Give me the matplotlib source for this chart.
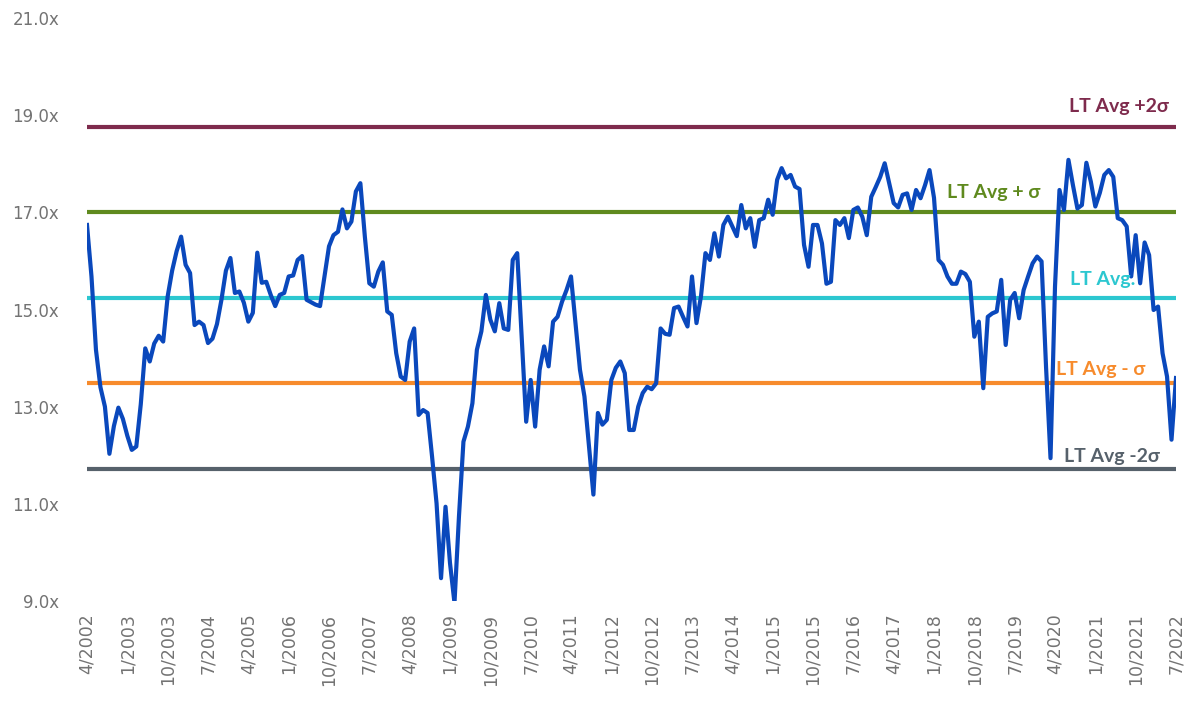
import matplotlib
matplotlib.use("Agg")
import matplotlib.pyplot as plt
import pandas as pd

# --- Forward P/E, monthly, 4/2002 .. 7/2022 ---
pe = [
    16.74, 15.68, 14.17, 13.40, 13.00, 12.03, 12.60, 12.98, 12.75, 12.40, 12.11, 12.18,
    13.05, 14.20, 13.93, 14.30, 14.46, 14.34, 15.27, 15.80, 16.20, 16.50, 15.92, 15.75,
    14.68, 14.75, 14.68, 14.31, 14.40, 14.70, 15.20, 15.80, 16.06, 15.34, 15.37, 15.14,
    14.75, 14.93, 16.17, 15.55, 15.57, 15.30, 15.07, 15.30, 15.34, 15.68, 15.70, 16.02,
    16.10, 15.20, 15.15, 15.10, 15.07, 15.68, 16.30, 16.53, 16.60, 17.06, 16.67, 16.81,
    17.43, 17.60, 16.50, 15.54, 15.47, 15.78, 15.97, 14.96, 14.89, 14.10, 13.62, 13.55,
    14.34, 14.61, 12.83, 12.93, 12.87, 11.97, 11.01, 9.47, 10.94, 9.78, 8.96, 10.74,
    12.28, 12.59, 13.07, 14.17, 14.55, 15.30, 14.79, 14.55, 15.13, 14.61, 14.58, 16.02,
    16.16, 14.44, 12.69, 13.55, 12.59, 13.76, 14.24, 13.83, 14.75, 14.85, 15.16, 15.40,
    15.68, 14.72, 13.76, 13.21, 12.20, 11.19, 12.87, 12.63, 12.73, 13.55, 13.80, 13.93,
    13.69, 12.52, 12.52, 13.00, 13.28, 13.41, 13.36, 13.48, 14.61, 14.50, 14.48, 15.03,
    15.06, 14.85, 14.65, 15.68, 14.72, 15.27, 16.16, 16.02, 16.57, 16.09, 16.74, 16.91,
    16.71, 16.51, 17.15, 16.67, 16.88, 16.29, 16.84, 16.88, 17.26, 16.95, 17.67, 17.91,
    17.70, 17.77, 17.53, 17.48, 16.33, 15.88, 16.74, 16.74, 16.36, 15.53, 15.57, 16.84,
    16.74, 16.88, 16.47, 17.05, 17.10, 16.91, 16.53, 17.32, 17.52, 17.73, 18.01, 17.60,
    17.19, 17.10, 17.36, 17.39, 17.05, 17.46, 17.29, 17.56, 17.87, 17.30, 16.02, 15.92,
    15.68, 15.53, 15.53, 15.78, 15.73, 15.57, 14.44, 14.75, 13.38, 14.85, 14.92, 14.96,
    15.61, 14.27, 15.20, 15.34, 14.82, 15.40, 15.68, 15.95, 16.09, 15.99, 13.82, 11.94,
    15.47, 17.46, 17.05, 18.08, 17.56, 17.08, 17.15, 18.02, 17.63, 17.12, 17.40, 17.77,
    17.87, 17.73, 16.88, 16.84, 16.71, 15.68, 16.53, 15.54, 16.38, 16.12, 14.99, 15.06,
    14.10, 13.62, 12.32, 13.59,
]

dates = pd.date_range("2002-04-01", periods=len(pe), freq="MS")

# Long-term average bands
lt_avg = 15.24
sigma = 1.76
band_names = ["LT Avg +2\u03c3", "LT Avg + \u03c3", "LT Avg.", "LT Avg - \u03c3", "LT Avg -2\u03c3"]
band_mult = [2, 1, 0, -1, -2]
band_colors = ["#7E2B4D", "#5F8A1E", "#2CC7D0", "#F78B2C", "#56616B"]

# Where the band labels sit (right edge in month index, offset above the line)
label_x = [241.3, 212.7, 234.0, 236.2, 239.5]
label_dy = [0.41, 0.41, 0.37, 0.29, 0.25]

# --- Chart ---
fig = plt.figure(figsize=(12, 7.06), dpi=100)
ax = fig.add_axes([87 / 1200, 1 - 601 / 706, (1176 - 87) / 1200, (601 - 18) / 706])

x = list(range(len(pe)))

for name, m, col, lx, dy in zip(band_names, band_mult, band_colors, label_x, label_dy):
    level = lt_avg + m * sigma
    ax.axhline(level, color=col, linewidth=3.0, zorder=2)
    ax.text(lx, level + dy, name, color=col, ha="right", va="center",
            fontsize=14, fontweight="bold", family=["Lato", "DejaVu Sans"], zorder=4)

ax.plot(x, pe, color="#0A48BC", linewidth=3.0, zorder=3, solid_joinstyle="round")

ax.set_xlim(0, len(pe) - 1)
ax.set_ylim(9, 21)
ax.set_yticks([9, 11, 13, 15, 17, 19, 21])
ax.yaxis.set_major_formatter(plt.FuncFormatter(lambda v, _: f"{v:.1f}x"))

tick_idx = list(range(0, len(pe), 9))
ax.set_xticks(tick_idx)
ax.set_xticklabels([f"{dates[i].month}/{dates[i].year}" for i in tick_idx], rotation=90)

for s in ax.spines.values():
    s.set_visible(False)
ax.tick_params(axis="y", length=0, pad=20, labelsize=12, labelcolor="#737373")
ax.tick_params(axis="x", length=0, pad=9, labelsize=12.5, labelcolor="#737373")

fig.savefig("out.png", dpi=100, facecolor="white")
